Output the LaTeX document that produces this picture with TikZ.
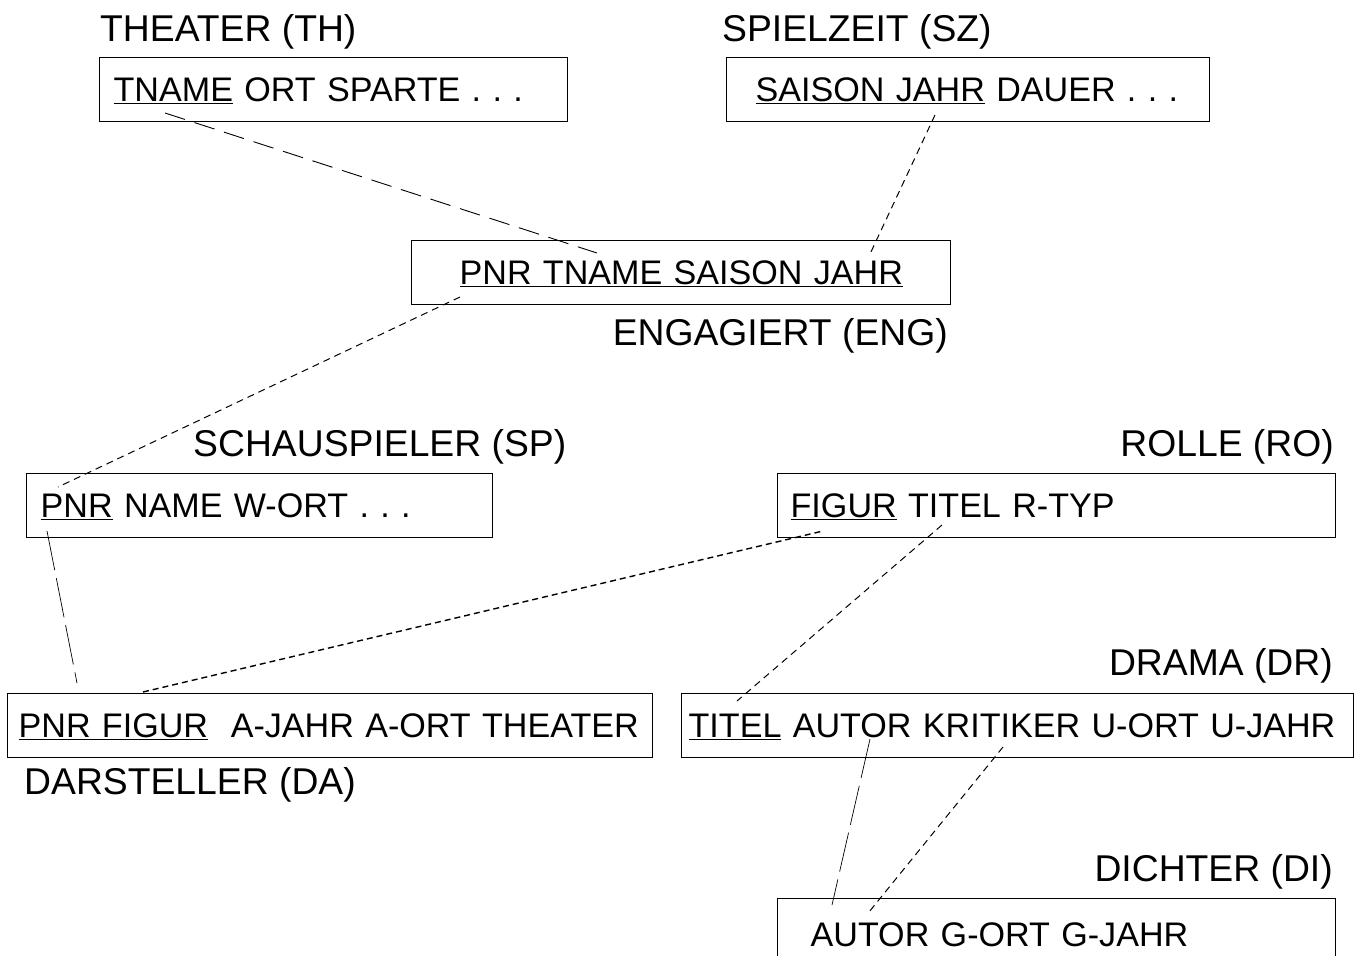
\documentclass[tikz,border=0pt]{standalone}
\usepackage{fontspec}
\setmainfont{Liberation Sans}
\usepackage{tikz}
\usetikzlibrary{positioning}
\frenchspacing

\begin{document}
\begin{tikzpicture}[x=1pt,y=-1pt,
    relbox/.style={draw, line width=1.3pt, anchor=north west, minimum height=64pt, inner ysep=0pt, align=left,
        font=\fontsize{34.1}{40}\selectfont, text height=24.4pt, text depth=0pt},
    relname/.style={inner sep=0pt, font=\fontsize{37.3}{44}\selectfont, text height=26.7pt, text depth=0pt},
    longdash/.style={line width=0.9pt, dash pattern=on 21pt off 10pt},
    middash/.style={line width=1pt, dash pattern=on 7pt off 5pt},
    shortdash/.style={line width=1.4pt, dash pattern=on 6pt off 4pt},
    gapline/.style={line width=0.7pt, dash pattern=on 40pt off 8pt}]
    \useasboundingbox (0,0) rectangle (1361,956);
    % relations
    \node[relbox, inner xsep=14pt, text width=440pt] (th) at (99,57) {\mbox{\underline{TNAME} ORT SPARTE . . .}};
    \node[relbox, inner xsep=29pt, text width=425pt] (sz) at (726,57) {\mbox{\underline{SAISON JAHR} DAUER . . .}};
    \node[relbox, inner xsep=48pt, text width=443pt] (eng) at (411,240) {\mbox{\underline{PNR TNAME SAISON JAHR}}};
    \node[relbox, inner xsep=14pt, text width=438pt] (sp) at (26,473) {\mbox{\underline{PNR} NAME W-ORT . . .}};
    \node[relbox, inner xsep=13pt, text width=532pt] (ro) at (777,473) {\mbox{\underline{FIGUR} TITEL R-TYP}};
    \node[relbox, inner xsep=11pt, text width=623pt] (da) at (7,693) {\mbox{\underline{PNR FIGUR}\ \ A-JAHR A-ORT THEATER}};
    \node[relbox, inner xsep=7pt, text width=658pt] (dr) at (681,693) {\mbox{\underline{TITEL} AUTOR KRITIKER U-ORT U-JAHR}};
    \node[relbox, inner xsep=33pt, text width=492pt, minimum height=72pt] (di) at (777,898) {\mbox{AUTOR G-ORT G-JAHR}};
    % names
    \node[relname, anchor=west] (th-name) at (100,28) {THEATER (TH)};
    \node[relname, anchor=west] (sz-name) at (722,28) {SPIELZEIT (SZ)};
    \node[relname, anchor=east] (eng-name) at (948,332) {ENGAGIERT (ENG)};
    \node[relname, anchor=west] (sp-name) at (193,443) {SCHAUSPIELER (SP)};
    \node[relname, anchor=east] (ro-name) at (1334,443) {ROLLE (RO)};
    \node[relname, anchor=east] (dr-name) at (1333,662) {DRAMA (DR)};
    \node[relname, anchor=west] (da-name) at (24,781) {DARSTELLER (DA)};
    \node[relname, anchor=east] (di-name) at (1333,868) {DICHTER (DI)};
    % attribute ends
    \coordinate (th-tname) at (165,113);
    \coordinate (eng-tname) at (597,253);
    \coordinate (sz-jahr) at (935,115);
    \coordinate (eng-jahr) at (870,254);
    \coordinate (eng-pnr) at (460,297);
    \coordinate (sp-pnr) at (58,487);
    \coordinate (sp-pnr2) at (47,531);
    \coordinate (da-pnr) at (77,683);
    \coordinate (da-figur) at (143,692);
    \coordinate (ro-figur) at (823,531);
    \coordinate (ro-titel) at (942,525);
    \coordinate (dr-titel) at (737,701);
    \coordinate (dr-autor) at (870,739);
    \coordinate (di-autor) at (832,905);
    \coordinate (dr-krit) at (1003,747);
    \coordinate (di-autor2) at (869,912);
    % links
    \draw[longdash] (th-tname) -- (eng-tname);
    \draw[middash] (sz-jahr) -- (eng-jahr);
    \draw[middash] (eng-pnr) -- (sp-pnr);
    \draw[gapline] (sp-pnr2) -- (da-pnr);
    \draw[shortdash] (da-figur) -- (ro-figur);
    \draw[middash] (ro-titel) -- (dr-titel);
    \draw[gapline] (dr-autor) -- (di-autor);
    \draw[middash] (dr-krit) -- (di-autor2);
\end{tikzpicture}
\end{document}
